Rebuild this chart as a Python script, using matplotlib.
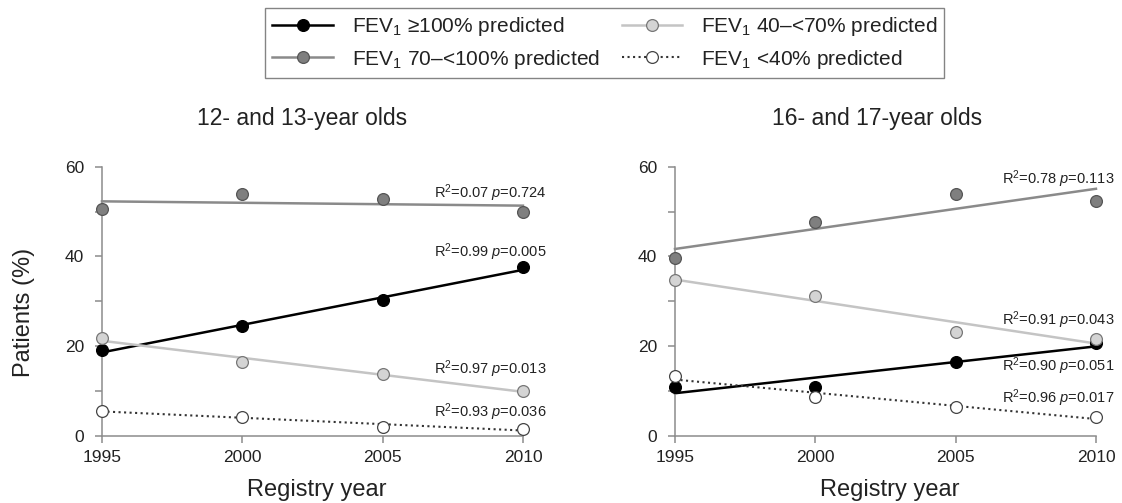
import numpy as np
import matplotlib
matplotlib.use('Agg')
import matplotlib.pyplot as plt

plt.rcParams['font.family'] = ['Liberation Sans', 'DejaVu Sans']
plt.rcParams['mathtext.fontset'] = 'custom'
plt.rcParams['mathtext.rm'] = 'Liberation Sans'
plt.rcParams['mathtext.it'] = 'Liberation Sans:italic'

years = [1995, 2000, 2005, 2010]

# 12- and 13-year olds
young_ge100 = [19.1, 24.4, 30.2, 37.6]
young_70_100 = [50.6, 53.9, 52.8, 49.9]
young_40_70 = [21.8, 16.4, 13.9, 10.0]
young_lt40 = [5.6, 4.2, 2.0, 1.6]

# 16- and 17-year olds
old_ge100 = [10.9, 11.0, 16.4, 20.7]
old_70_100 = [39.6, 47.6, 53.9, 52.4]
old_40_70 = [34.8, 31.3, 23.1, 21.7]
old_lt40 = [13.3, 8.7, 6.4, 4.3]

young_stats = [('0.99', '0.005'), ('0.07', '0.724'), ('0.97', '0.013'), ('0.93', '0.036')]
old_stats = [('0.90', '0.051'), ('0.78', '0.113'), ('0.91', '0.043'), ('0.96', '0.017')]

labels = ['FEV$_1$ \u2265100% predicted', 'FEV$_1$ 70\u2013<100% predicted',
          'FEV$_1$ 40\u2013<70% predicted', 'FEV$_1$ <40% predicted']

# style per group: marker face, line colour, linestyle
styles = [
    dict(mfc='black', mec='black', color='black', ls='-', lw=1.8),
    dict(mfc='#7f7f7f', mec='#555555', color='#8a8a8a', ls='-', lw=1.8),
    dict(mfc='#d4d4d4', mec='#777777', color='#c4c4c4', ls='-', lw=1.8),
    dict(mfc='white', mec='#444444', color='#333333', ls=':', lw=1.5),
]

fig = plt.figure(figsize=(11.22, 5.03), dpi=100)
ax1 = fig.add_axes([0.0909, 0.1332, 0.3752, 0.5354])
ax2 = fig.add_axes([0.6016, 0.1332, 0.3752, 0.5354])


def draw_panel(ax, series, stats, label_y, label_x):
    x = np.array(years, dtype=float)
    handles = []
    for vals, st, (r2, p), ly, lab in zip(series, styles, stats, label_y, labels):
        k, b = np.polyfit(x, vals, 1)
        ax.plot(x, k * x + b, color=st['color'], ls=st['ls'], lw=st['lw'],
                clip_on=False, zorder=2)
        ax.plot(x, vals, 'o', ms=8.5, mfc=st['mfc'], mec=st['mec'], mew=0.9,
                clip_on=False, zorder=3)
        h, = ax.plot([], [], marker='o', ms=8.5, mfc=st['mfc'], mec=st['mec'],
                     mew=0.9, color=st['color'], ls=st['ls'], lw=st['lw'], label=lab)
        handles.append(h)
        ax.text(label_x, ly, 'R$^2$=' + r2 + ' $\\it{p}$=' + p, ha='right',
                va='center', fontsize=10.5, color='#222222')
    ax.set_xlim(1995, 2010)
    ax.set_ylim(0, 60)
    ax.set_xticks(years)
    ax.set_yticks([0, 20, 40, 60])
    ax.set_yticks([10, 30, 50], minor=True)
    for s in ['top', 'right']:
        ax.spines[s].set_visible(False)
    for s in ['left', 'bottom']:
        ax.spines[s].set_color('#8c8c8c')
        ax.spines[s].set_linewidth(1.1)
    ax.tick_params(which='both', direction='out', color='#8c8c8c', length=5,
                   width=1.1, labelsize=12.5, labelcolor='#222222')
    ax.tick_params(axis='x', pad=5)
    ax.tick_params(axis='y', pad=8)
    ax.set_xlabel('Registry year', fontsize=17, color='#222222')
    ax.xaxis.set_label_coords(0.51, -0.20)
    ax.xaxis.label.set_va('center')
    return handles


handles = draw_panel(ax1, [young_ge100, young_70_100, young_40_70, young_lt40],
                     young_stats, [41.0, 54.2, 14.8, 5.2], 2010.85)
draw_panel(ax2, [old_ge100, old_70_100, old_40_70, old_lt40],
           old_stats, [15.6, 57.2, 25.9, 8.5], 2010.65)

fig.text(0.021, 0.378, 'Patients (%)', rotation=90, ha='center', va='center',
         fontsize=17, color='#222222')

fig.text(0.269, 0.765, '12- and 13-year olds', ha='center', va='center',
         fontsize=16.5, color='#222222')
fig.text(0.782, 0.765, '16- and 17-year olds', ha='center', va='center',
         fontsize=16.5, color='#222222')

leg = fig.legend(handles=handles, ncol=2, loc='upper center',
                 bbox_to_anchor=(0.539, 0.984), fontsize=15, frameon=True,
                 fancybox=False, edgecolor='#666666', handlelength=2.9,
                 columnspacing=1.05, labelspacing=0.45, borderpad=0.35,
                 handletextpad=0.9, borderaxespad=0)
leg.get_frame().set_linewidth(1.0)
for t in leg.get_texts():
    t.set_color('#222222')

fig.savefig('out.png', dpi=100)
